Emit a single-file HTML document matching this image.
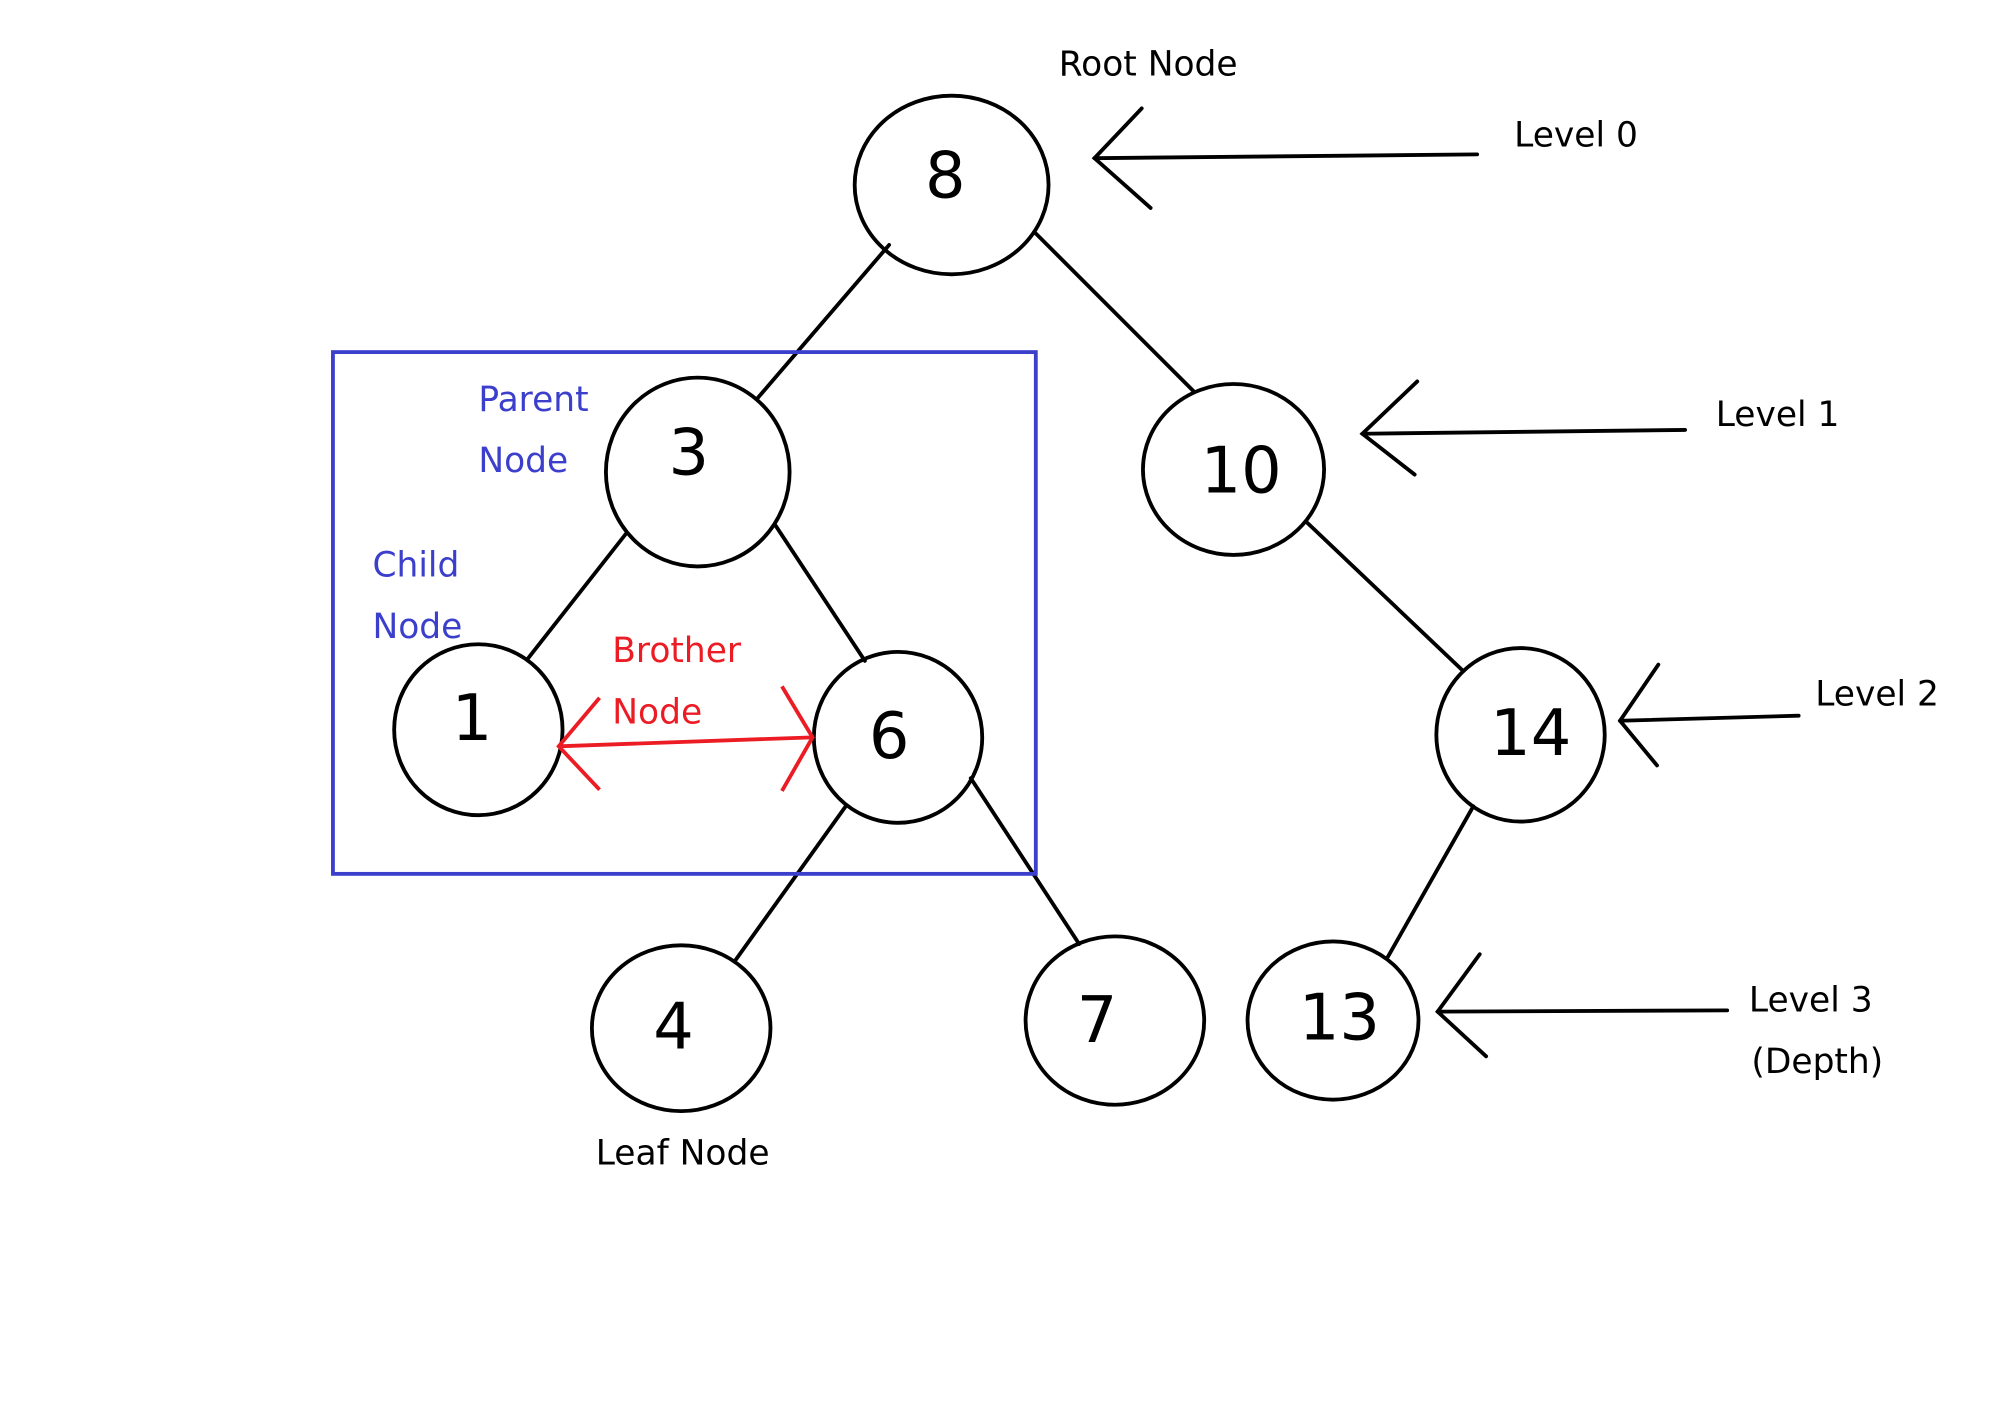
<!DOCTYPE html>
<html><head><meta charset="utf-8"><style>
html,body{margin:0;padding:0;background:#fff;}
svg{display:block;}
text{font-family:"DejaVu Sans","Liberation Sans",sans-serif;}
</style></head><body>
<svg width="2004" height="1402" viewBox="0 0 1571 1099" preserveAspectRatio="none" xmlns="http://www.w3.org/2000/svg">
<rect width="1571" height="1099" fill="#fff"/>
<g stroke="#000" stroke-width="3" fill="none" stroke-linecap="round">
<line x1="697" y1="192" x2="594" y2="312"/>
<line x1="811" y1="182" x2="936" y2="307"/>
<line x1="491" y1="418" x2="414" y2="516"/>
<line x1="608" y1="412" x2="678" y2="518"/>
<line x1="1025" y1="410" x2="1146" y2="525"/>
<line x1="663" y1="632" x2="577" y2="752"/>
<line x1="761" y1="610" x2="846" y2="740"/>
<line x1="1155" y1="632" x2="1088" y2="750"/>
<ellipse cx="746" cy="145" rx="76" ry="70"/>
<ellipse cx="547" cy="370" rx="72" ry="74"/>
<ellipse cx="967" cy="368" rx="71" ry="67"/>
<ellipse cx="375" cy="572" rx="66" ry="67"/>
<ellipse cx="704" cy="578" rx="66" ry="67"/>
<ellipse cx="1192" cy="576" rx="66" ry="68"/>
<ellipse cx="534" cy="806" rx="70" ry="65"/>
<ellipse cx="874" cy="800" rx="70" ry="66"/>
<ellipse cx="1045" cy="800" rx="67" ry="62"/>
<polyline points="1158,121 858,124"/><polyline points="895,85 858,124 902,163"/>
<polyline points="1321,337 1068,340"/><polyline points="1111,299 1068,340 1109,372"/>
<polyline points="1410,561 1270,565"/><polyline points="1300,521 1270,565 1299,600"/>
<polyline points="1354,792 1127,793"/><polyline points="1160,748 1127,793 1165,828"/>
</g>
<rect x="261" y="276" width="551" height="409" fill="none" stroke="#3b3fcc" stroke-width="3"/>
<g stroke="#ec1c24" stroke-width="3" fill="none">
<line x1="438" y1="585" x2="637" y2="578"/>
<polyline points="470,547 438,585 470,619"/>
<polyline points="613,538 637,578 613,620"/>
</g>
<g font-size="50" text-anchor="middle" fill="#000">
<text x="741" y="155">8</text>
<text x="540" y="372">3</text>
<text x="973" y="386">10</text>
<text x="370" y="580">1</text>
<text x="697" y="594">6</text>
<text x="1200" y="592">14</text>
<text x="528" y="822">4</text>
<text x="860" y="817">7</text>
<text x="1050" y="815">13</text>
</g>
<g font-size="27" fill="#000">
<text x="830" y="59">Root Node</text>
<text x="1187" y="115">Level 0</text>
<text x="1345" y="334">Level 1</text>
<text x="1423" y="553">Level 2</text>
<text x="1371" y="793">Level 3</text>
<text x="1373" y="841">(Depth)</text>
<text x="467" y="913">Leaf Node</text>
</g>
<g font-size="27" fill="#3b3fcc">
<text x="375" y="322">Parent</text>
<text x="375" y="370">Node</text>
<text x="292" y="452">Child</text>
<text x="292" y="500">Node</text>
</g>
<g font-size="27" fill="#ec1c24">
<text x="480" y="519">Brother</text>
<text x="480" y="567">Node</text>
</g>
</svg>
</body></html>
